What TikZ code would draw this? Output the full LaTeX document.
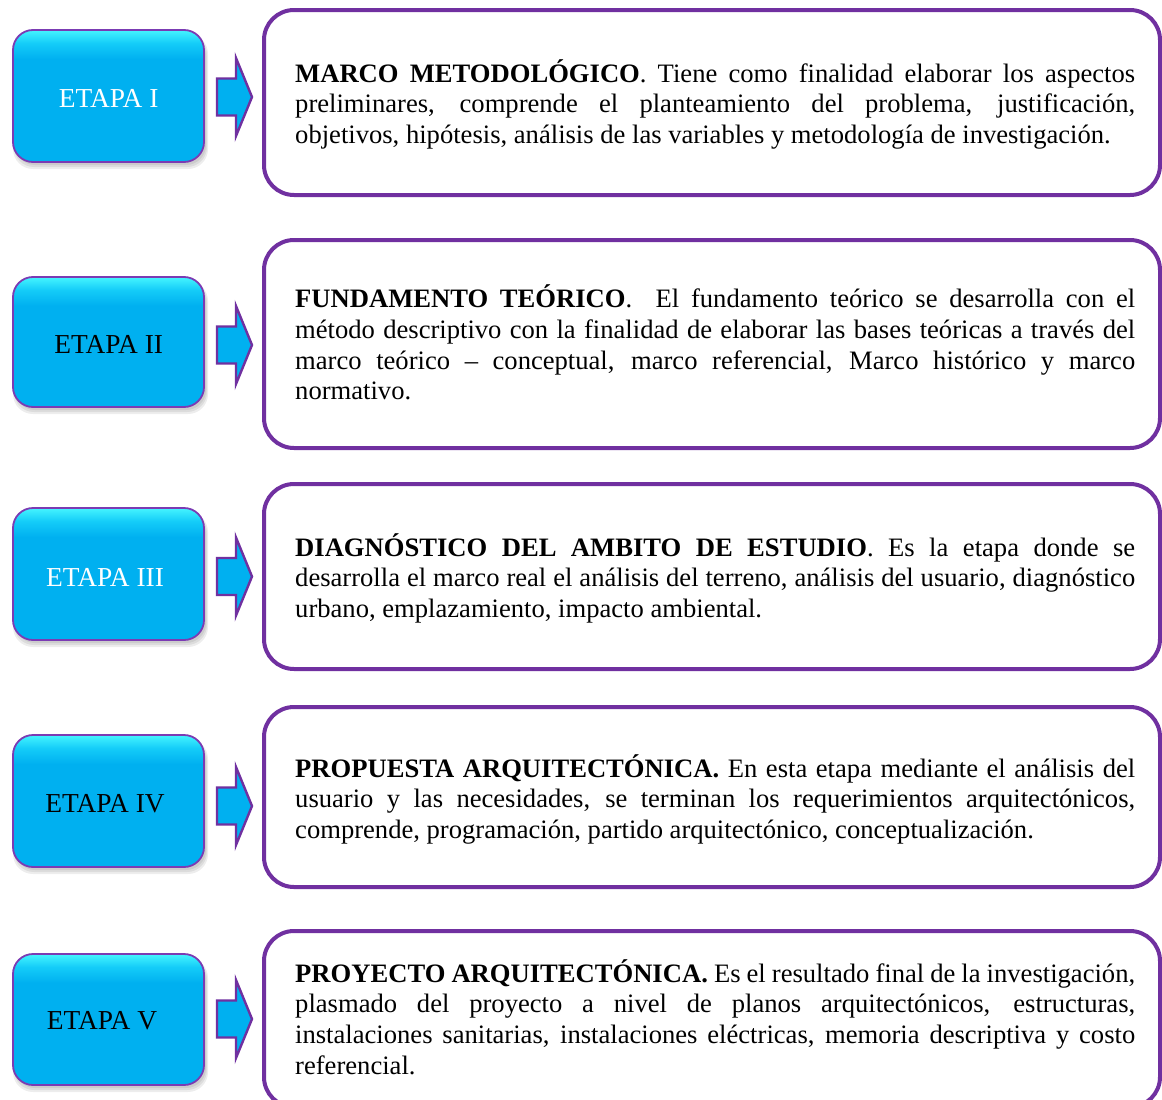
\documentclass[tikz,border=0pt]{standalone}
\usepackage{fontspec}
\setmainfont{Liberation Serif}
\definecolor{purp}{HTML}{7030A0}
\definecolor{lpurp}{HTML}{7B3BB3}
\definecolor{cyanbase}{HTML}{00B0F0}
\definecolor{cyanmid}{HTML}{14CCF8}
\definecolor{cyanlight}{HTML}{45F4FF}
\pgfdeclareverticalshading{gloss}{100bp}{color(0bp)=(cyanbase); color(25bp)=(cyanbase); color(64bp)=(cyanbase); color(70bp)=(cyanmid); color(75bp)=(cyanlight); color(100bp)=(cyanlight)}
\tikzset{
  stagebox/.style={rounded corners=20pt, draw=lpurp, line width=1.8pt, shading=gloss,
    minimum width=191pt, inner sep=0pt, outer sep=0pt},
  stagelabel/.style={inner sep=0pt, font=\fontsize{27.4}{30}\selectfont},
  rbox/.style={rounded corners=30pt, draw=purp, line width=4pt, fill=white,
    minimum width=896pt, inner sep=0pt, outer sep=0pt},
  desc/.style={anchor=base west, inner sep=0pt, text width=840pt, align=justify,
    font=\fontsize{26.6}{30.75}\selectfont},
  blockarrow/.style={fill=cyanbase, draw=purp, line width=2.4pt, line join=miter},
  softshadow/.style={fill=black, opacity=0.07, rounded corners=20pt}
}
\begin{document}
\begin{tikzpicture}[x=1pt,y=-1pt]
\useasboundingbox (0,0) rectangle (1162,1100);
\clip (0,0) rectangle (1162,1100);
\fill[white] (0,0) rectangle (1162,1100);

% left stage boxes with soft shadows and labels
\foreach \n/\t/\b/\lab/\col/\lx/\ly in {
  1/30/162/ETAPA I/white/108.7/98,
  2/277/407/ETAPA II/black/108.7/344.5,
  3/508/640/ETAPA III/white/105/577,
  4/735/867/ETAPA IV/black/105/803.5,
  5/954/1085/ETAPA V/black/102/1020.5}{
  \fill[softshadow] (15,{\t+6}) rectangle (206,{\b+3});
  \fill[softshadow] (14,{\t+5}) rectangle (207,{\b+5});
  \fill[softshadow] (13,{\t+4}) rectangle (208,{\b+7});
  \node[stagebox, minimum height={\b-\t}] (s\n) at (108.5,{(\t+\b)/2}) {};
  \node[stagelabel, text=\col] (l\n) at (\lx,\ly) {\lab};
}

% block arrows
\foreach \n/\c in {1/97, 2/345, 3/576.5, 4/806, 5/1019}{
  \draw[blockarrow] (217,{\c-18.5}) -- (236,{\c-18.5}) -- (236,{\c-39}) -- (252,\c)
    -- (236,{\c+39}) -- (236,{\c+18.5}) -- (217,{\c+18.5}) -- cycle;
}

% right description boxes
\node[rbox, minimum height=185pt] (r1) at (712,102.5) {};
\node[rbox, minimum height=208pt] (r2) at (712,344) {};
\node[rbox, minimum height=185pt] (r3) at (712,576.5) {};
\node[rbox, minimum height=180pt] (r4) at (712,797) {};
\node[rbox, minimum height=176pt] (r5) at (712,1019) {};

\node[desc] (t1) at (295,82) {\textbf{MARCO METODOLÓGICO}. Tiene como finalidad elaborar los aspectos\linebreak
preliminares, comprende el planteamiento del problema, justificación,\linebreak
objetivos, hipótesis, análisis de las variables y metodología de investigación.};

\node[desc] (t2) at (295,307.5) {\textbf{FUNDAMENTO TEÓRICO}.\ \ El fundamento teórico se desarrolla con el\linebreak
método descriptivo con la finalidad de elaborar las bases teóricas a través del\linebreak
marco teórico – conceptual, marco referencial, Marco histórico y marco\linebreak
normativo.};

\node[desc] (t3) at (295,556) {\textbf{DIAGNÓSTICO DEL AMBITO DE ESTUDIO}. Es la etapa donde se\linebreak
desarrolla el marco real el análisis del terreno, análisis del usuario, diagnóstico\linebreak
urbano, emplazamiento, impacto ambiental.};

\node[desc] (t4) at (295,777) {\textbf{PROPUESTA ARQUITECTÓNICA.} En esta etapa mediante el análisis del\linebreak
usuario y las necesidades, se terminan los requerimientos arquitectónicos,\linebreak
comprende, programación, partido arquitectónico, conceptualización.};

\node[desc] (t5) at (295,982) {\textbf{PROYECTO ARQUITECTÓNICA.} Es el resultado final de la investigación,\linebreak
plasmado del proyecto a nivel de planos arquitectónicos, estructuras,\linebreak
instalaciones sanitarias, instalaciones eléctricas, memoria descriptiva y costo\linebreak
referencial.};
\end{tikzpicture}
\end{document}
